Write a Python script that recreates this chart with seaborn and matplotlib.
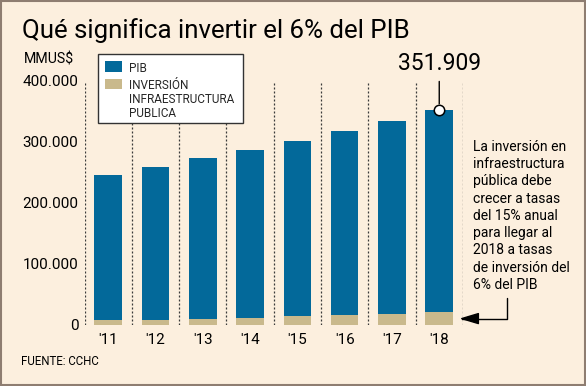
import matplotlib
matplotlib.use('Agg')
import matplotlib.pyplot as plt
import seaborn as sns
import pandas as pd
from matplotlib.patches import Rectangle

# ---- data ----
years = ["'11", "'12", "'13", "'14", "'15", "'16", "'17", "'18"]
pib = [245000, 259000, 273000, 287000, 301000, 317000, 334000, 351909]
inversion = [8000, 9000, 10500, 12000, 14000, 16000, 18500, 21000]
yticks = [0, 100000, 200000, 300000, 400000]
yticklabels = ['0', '100.000', '200.000', '300.000', '400.000']
title = "Qué significa invertir el 6% del PIB"
unit = "MMUS$"
legend_labels = ["PIB", "INVERSIÓN\nINFRAESTRUCTURA\nPUBLICA"]
note = ("La inversión en\ninfraestructura\npública debe\ncrecer a tasas\n"
        "del 15% anual\npara llegar al\n2018 a tasas\nde inversión del\n6% del PIB")
source = "FUENTE: CCHC"

BG = '#FCEFDE'
BLUE = '#03699A'
TAN = '#C9B98C'

sns.set_theme(style='white')
plt.rcParams['font.family'] = ['Roboto', 'DejaVu Sans']

W, H = 586, 386
fig = plt.figure(figsize=(W / 100, H / 100), dpi=100, facecolor=BG)


def fx(x):
    return x / W


def fy(y):
    return 1 - y / H


ax = fig.add_axes([fx(84.5), fy(325), (462.9 - 84.5) / W, (325 - 80.7) / H])
ax.set_facecolor('none')

df = pd.DataFrame({'year': years, 'pib': pib, 'inv': inversion})
sns.barplot(data=df, x='year', y='pib', color=BLUE, saturation=1, width=0.585,
            errorbar=None, ax=ax, linewidth=0, zorder=2)
sns.barplot(data=df, x='year', y='inv', color=TAN, saturation=1, width=0.585,
            errorbar=None, ax=ax, linewidth=0, zorder=3)

ax.set_xlim(-0.5, len(years) - 0.5)
ax.set_ylim(0, 400000)
for i in range(len(years) + 1):
    ax.axvline(i - 0.5, color='#3a3a3a', lw=0.9, ls=(0, (1.6, 1.6)), zorder=1)

ax.set_yticks(yticks, yticklabels)
ax.tick_params(axis='both', length=0, labelsize=11, colors='black')
ax.tick_params(axis='y', pad=4.3)
ax.tick_params(axis='x', pad=5.5)
ax.set_xlabel('')
ax.set_ylabel('')
for s in ax.spines.values():
    s.set_visible(False)

# highlighted last value
ax.plot([len(years) - 1], [pib[-1]], 'o', ms=7.5, mfc='white', mec='black',
        mew=1.1, zorder=6, clip_on=False)
ax.annotate(f"{pib[-1]:,}".replace(',', '.'), xy=(len(years) - 1, pib[-1]),
            xytext=(0, 39.7), textcoords='offset pixels', ha='center',
            va='baseline', fontsize=16.5, color='black', annotation_clip=False,
            arrowprops=dict(arrowstyle='-', color='black', lw=1,
                            shrinkA=2, shrinkB=4.5))

# side note with arrow to last investment bar
for k, line in enumerate(note.split('\n')):
    fig.text(fx(473.3), fy(150.7 + 17.3 * k), line, fontsize=10,
             ha='left', va='baseline', color='black')
ax.annotate('', xy=(len(years) - 1 + 0.424, inversion[-1] / 2),
            xytext=(506.7, H - 298.3), textcoords='figure pixels',
            annotation_clip=False,
            arrowprops=dict(arrowstyle='-|>,head_length=1.0,head_width=0.3',
                            color='black', lw=1, shrinkA=0, shrinkB=0,
                            connectionstyle='angle,angleA=90,angleB=0,rad=0'))

# title, unit, source
fig.text(fx(22), fy(37.7), title, fontsize=18.6, ha='left', va='baseline', color='black')
fig.text(fx(24), fy(63.3), unit, fontsize=10.2, ha='left', va='baseline', color='black')
fig.text(fx(20.7), fy(365), source, fontsize=8.3, ha='left', va='baseline', color='black')

# legend (manual)
fig.add_artist(Rectangle((fx(97.7), fy(123.3)), (243.3 - 97.7) / W, (123.3 - 54.3) / H,
                         transform=fig.transFigure, facecolor='white',
                         edgecolor='#333333', lw=1, zorder=5))
fig.add_artist(Rectangle((fx(105), fy(71.7)), 17.3 / W, 10.7 / H,
                         transform=fig.transFigure, facecolor=BLUE, lw=0, zorder=6))
fig.add_artist(Rectangle((fx(105), fy(89.3)), 17.3 / W, 10.6 / H,
                         transform=fig.transFigure, facecolor=TAN, lw=0, zorder=6))
fig.text(fx(129.3), fy(71.7), legend_labels[0], fontsize=8.5, ha='left',
         va='baseline', zorder=7)
for k, line in enumerate(legend_labels[1].split('\n')):
    fig.text(fx(129.3), fy(89.3 + 13.7 * k), line, fontsize=8.5, ha='left',
             va='baseline', zorder=7)

# frame
fig.add_artist(Rectangle((fx(1), fy(384.5)), 583.5 / W, 383.5 / H,
                         transform=fig.transFigure, fill=False,
                         edgecolor='#8E7D71', lw=1.5, zorder=10))

fig.savefig('out.png', dpi=100, facecolor=BG)
